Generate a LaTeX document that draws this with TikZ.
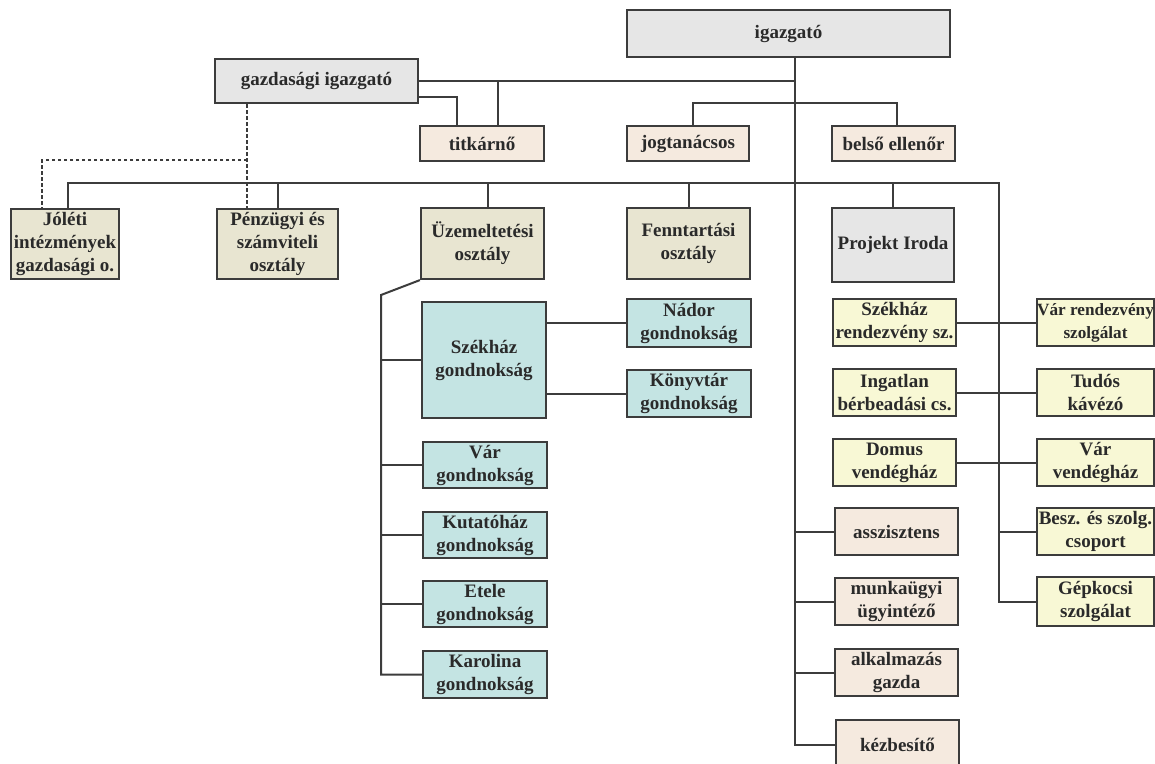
\documentclass[tikz,border=0pt]{standalone}
\usepackage{fontspec}
\setmainfont{Liberation Serif}
\usetikzlibrary{calc,backgrounds}
\definecolor{cgray}{HTML}{E6E6E6}
\definecolor{cpeach}{HTML}{F5EADF}
\definecolor{ckhaki}{HTML}{E8E5D1}
\definecolor{cteal}{HTML}{C4E4E3}
\definecolor{cyell}{HTML}{F8F8D5}
\definecolor{cline}{HTML}{3C3C3C}
\definecolor{ctext}{HTML}{2A2A2A}
\tikzset{
  box/.style={draw=cline, line width=2.2pt, inner sep=0pt, align=center,
    text=ctext, font=\fontsize{19}{23}\selectfont\bfseries},
  grayb/.style={box, fill=cgray},
  peachb/.style={box, fill=cpeach},
  khakib/.style={box, fill=ckhaki},
  tealb/.style={box, fill=cteal},
  yellb/.style={box, fill=cyell},
  smallt/.style={font=\fontsize{17.2}{23}\selectfont\bfseries},
  conn/.style={draw=cline, line width=2pt},
  dconn/.style={draw=cline, line width=2pt, dash pattern=on 3.5pt off 2.5pt},
}
\newcommand\bx[7]{\node[#2, minimum width={(#5-#3)*1pt}, minimum height={(#6-#4)*1pt}] (#1) at ({(#3+#5)/2},{(#4+#6)/2}) {#7};}
\begin{document}
\begin{tikzpicture}[x=1pt,y=-1pt]
\clip (0,0) rectangle (1155,763);
% coordinates for connector routes
\coordinate (vx) at (795,57);
\coordinate (t1) at (457,97);
\coordinate (t2) at (498,81);
\coordinate (j1) at (693,103);
\coordinate (j2) at (897,103);
\coordinate (b1) at (68,183);
\coordinate (b2) at (999,183);
\coordinate (d1) at (247,160);
\coordinate (d2) at (42,160);
\coordinate (u1) at (381,295);
\coordinate (ud) at (488,183);
% nodes
\bx{igaz}{grayb}{627}{10}{950}{57}{igazgató}
\bx{gazd}{grayb}{215}{59}{418}{103}{gazdasági igazgató}
\bx{titk}{peachb}{420}{126}{544}{161}{titkárnő}
\bx{jog}{peachb}{627}{126}{749}{161}{jogtanácsos}
\bx{belso}{peachb}{832}{126}{955}{161}{belső ellenőr}
\bx{jol}{khakib}{11}{209}{119}{279}{Jóléti\\intézmények\\gazdasági o.}
\bx{penz}{khakib}{217}{209}{338}{279}{Pénzügyi és\\számviteli\\osztály}
\bx{uzem}{khakib}{421}{208}{544}{279}{Üzemeltetési\\osztály}
\bx{fenn}{khakib}{627}{208}{750}{279}{Fenntartási\\osztály}
\bx{proj}{grayb}{832}{208}{954}{282}{Projekt Iroda}
\bx{szekh}{tealb}{422}{302}{546}{418}{Székház\\gondnokság}
\bx{nador}{tealb}{627}{299}{751}{347}{Nádor\\gondnokság}
\bx{konyv}{tealb}{627}{370}{751}{417}{Könyvtár\\gondnokság}
\bx{varg}{tealb}{423}{442}{547}{488}{Vár\\gondnokság}
\bx{kut}{tealb}{423}{512}{547}{558}{Kutatóház\\gondnokság}
\bx{etele}{tealb}{423}{581}{547}{627}{Etele\\gondnokság}
\bx{karo}{tealb}{423}{651}{547}{698}{Karolina\\gondnokság}
\bx{szekr}{yellb}{833}{299}{956}{346}{Székház\\rendezvény sz.}
\bx{ingat}{yellb}{833}{369}{956}{416}{Ingatlan\\bérbeadási cs.}
\bx{domus}{yellb}{833}{439}{956}{486}{Domus\\vendégház}
\bx{asszi}{peachb}{835}{508}{958}{555}{asszisztens}
\bx{munka}{peachb}{835}{578}{958}{625}{munkaügyi\\ügyintéző}
\bx{alkal}{peachb}{835}{649}{958}{696}{alkalmazás\\gazda}
\bx{kezb}{peachb}{836}{720}{959}{770}{kézbesítő}
\bx{varr}{yellb,smallt}{1037}{299}{1154}{346}{Vár rendezvény\\szolgálat}
\bx{tudos}{yellb}{1037}{369}{1154}{416}{Tudós\\kávézó}
\bx{varv}{yellb}{1037}{439}{1154}{486}{Vár\\vendégház}
\bx{besz}{yellb}{1037}{508}{1154}{555}{Besz. és szolg.\\csoport}
\bx{gep}{yellb}{1037}{577}{1154}{626}{Gépkocsi\\szolgálat}
% connectors, behind the boxes
\begin{pgfonlayer}{background}
\fill[white] (0,0) rectangle (1155,763);
\path[conn] (igaz.south -| vx) |- (kezb.west);
\path[conn] (asszi.west) -- (asszi.west -| vx);
\path[conn] (munka.west) -- (munka.west -| vx);
\path[conn] (alkal.west) -- (alkal.west -| vx);
\path[conn] (gazd.east) -- (gazd.east -| vx);
\path[conn] (gazd.east |- t1) -| (titk.north -| t1);
\path[conn] (t2) -- (titk.north -| t2);
\path[conn] (jog.north -| j1) -- (j1) -- (j2) -- (belso.north -| j2);
\path[conn] (jol.north -| b1) -- (b1) -- (b2) |- (gep.west);
\path[conn] (besz.west) -- (besz.west -| b2);
\path[conn] (penz.north) -- (penz.north |- b1);
\path[conn] (uzem.north -| ud) -- (ud);
\path[conn] (fenn.north) -- (fenn.north |- b1);
\path[conn] (proj.north) -- (proj.north |- b1);
\path[dconn] (gazd.south -| d1) -- (penz.north -| d1);
\path[dconn] (d1) -- (d2) -- (jol.north -| d2);
\path[conn] (uzem.south west) -- (u1) |- (karo.west);
\path[conn] (szekh.west) -- (szekh.west -| u1);
\path[conn] (varg.west) -- (varg.west -| u1);
\path[conn] (kut.west) -- (kut.west -| u1);
\path[conn] (etele.west) -- (etele.west -| u1);
\path[conn] (szekh.east |- nador.west) -- (nador.west);
\path[conn] (szekh.east |- konyv.west) -- (konyv.west);
\path[conn] (szekr.east) -- (varr.west);
\path[conn] (ingat.east) -- (tudos.west);
\path[conn] (domus.east) -- (varv.west);
\end{pgfonlayer}
\end{tikzpicture}
\end{document}
